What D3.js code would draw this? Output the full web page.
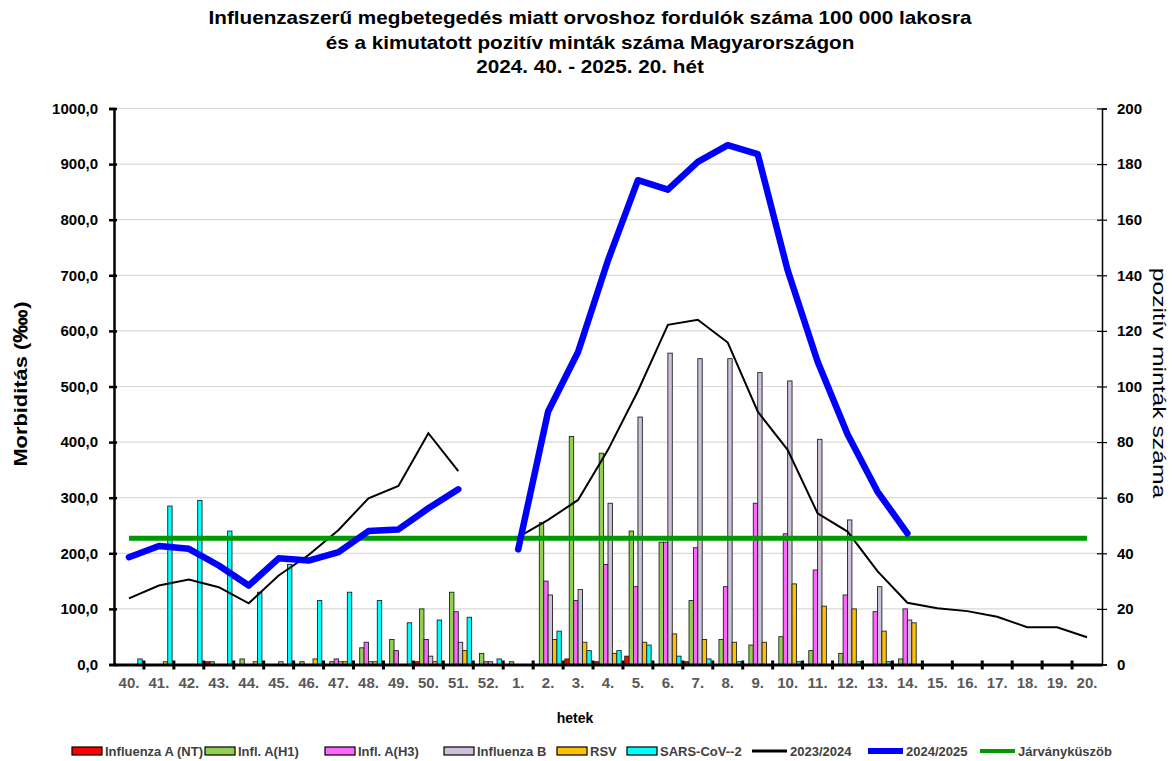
<!DOCTYPE html>
<html>
<head>
<meta charset="utf-8">
<script src="https://cdn.jsdelivr.net/npm/d3@7"></script>
<style>
  body { margin: 0; background: #fff; }
  svg { display: block; }
  text { font-family: "Liberation Sans", Arial, sans-serif; }
</style>
</head>
<body>
<div id="chart"></div>
<script>
// weeks 2024/40 .. 2025/20
var weeks = ["40.", "41.", "42.", "43.", "44.", "45.", "46.", "47.", "48.", "49.", "50.", "51.", "52.",
  "1.", "2.", "3.", "4.", "5.", "6.", "7.", "8.", "9.", "10.", "11.", "12.", "13.", "14.",
  "15.", "16.", "17.", "18.", "19.", "20."]

// positive samples (right axis)
var fluANT = [0, 0, 0, 1, 0, 0, 0, 0, 0, 0, 1, 0, 0, 0, 0, 2, 1, 3, 0, 1, 0, 0, 0, 0, 0, 0, 0, 0, 0, 0, 0, 0, 0]
var fluH1 = [0, 0, 0, 1, 2, 0, 1, 1, 6, 9, 20, 26, 4, 1, 51, 82, 76, 48, 44, 23, 9, 7, 10, 5, 4, 0, 2, 0, 0, 0, 0, 0, 0]
var fluH3 = [0, 0, 0, 0, 0, 0, 0, 2, 8, 5, 9, 19, 1, 0, 30, 23, 36, 28, 44, 42, 28, 58, 47, 34, 25, 19, 20, 0, 0, 0, 0, 0, 0]
var fluB = [0, 0, 0, 0, 0, 1, 0, 1, 1, 0, 3, 8, 1, 0, 25, 27, 58, 89, 112, 110, 110, 105, 102, 81, 52, 28, 16, 0, 0, 0, 0, 0, 0]
var rsv = [0, 1, 0, 0, 1, 0, 2, 1, 1, 0, 1, 5, 0, 0, 9, 8, 4, 8, 11, 9, 8, 8, 29, 21, 20, 12, 15, 0, 0, 0, 0, 0, 0]
var sars = [2, 57, 59, 48, 26, 36, 23, 26, 23, 15, 16, 17, 2, 0, 12, 5, 5, 7, 3, 2, 1, 0, 1, 0, 1, 1, 0, 0, 0, 0, 0, 0, 0]

// morbidity per 100 000 (left axis)
var morb2324 = [119, 142, 153, 139, 110, 160, 197, 242, 299, 321, 416, 348, null,
  229, 260, 296, 386, 492, 611, 620, 579, 455, 386, 272, 239, 168, 111, 101, 96, 86, 67, 67, 49]
var morb2425 = [193, 213, 208, 178, 142, 191, 187, 202, 240, 243, 281, 315, null,
  207, 455, 562, 727, 871, 854, 904, 934, 918, 709, 545, 414, 311, 236, null, null, null, null, null, null]
var threshold = 227

var barNames = ["Influenza A (NT)", "Infl. A(H1)", "Infl. A(H3)", "Influenza B", "RSV", "SARS-CoV--2"]
var barColors = ["#ff0000", "#92d050", "#ff66ff", "#ccc0da", "#ffc000", "#00ffff"]
var barData = [fluANT, fluH1, fluH3, fluB, rsv, sars]

function drawChart() {
  var width = 1175, height = 761
  var pl = 114, pr = 1102, pt = 108.5, pb = 664.5

  var svg = d3.select("#chart").append("svg")
    .attr("width", width)
    .attr("height", height)

  var x = d3.scaleBand().domain(weeks).range([pl, pr]).padding(0)
  var xs = d3.scaleBand().domain(d3.range(barNames.length))
    .range([0, x.bandwidth()]).paddingInner(0).paddingOuter(0.4)
  var yL = d3.scaleLinear().domain([0, 1000]).range([pb, pt])
  var yR = d3.scaleLinear().domain([0, 200]).range([pb, pt])

  // gridlines
  svg.append("g")
    .selectAll("line")
    .data(d3.range(100, 1001, 100))
    .enter().append("line")
    .attr("x1", pl).attr("x2", pr)
    .attr("y1", d => yL(d)).attr("y2", d => yL(d))
    .attr("stroke", "#d9d9d9")
    .attr("stroke-width", 1.2)

  // bars
  var groups = svg.append("g").selectAll("g")
    .data(barData)
    .enter().append("g")
    .attr("fill", (d, i) => barColors[i])

  groups.each(function (vals, si) {
    d3.select(this).selectAll("rect")
      .data(vals.map((v, i) => ({ v: v, w: weeks[i] })).filter(d => d.v > 0))
      .enter().append("rect")
      .attr("x", d => x(d.w) + xs(si))
      .attr("width", xs.bandwidth())
      .attr("y", d => yR(d.v))
      .attr("height", d => pb - yR(d.v))
      .attr("stroke", "#222")
      .attr("stroke-width", 0.9)
  })

  // left axis
  var fmt = d => d3.format(".1f")(d).replace(".", ",")
  var axL = svg.append("g")
    .attr("transform", "translate(" + pl + ",0)")
    .call(d3.axisLeft(yL).tickValues(d3.range(0, 1001, 100)).tickFormat(fmt).tickSizeOuter(0).tickSize(5).tickPadding(11))
  axL.select(".domain").attr("stroke", "#000").attr("stroke-width", 2.5)
  axL.selectAll(".tick line").attr("x1", 3).attr("x2", -5).attr("stroke-width", 2.5)
  axL.selectAll(".tick text")
    .attr("font-size", 15).attr("font-weight", "bold").attr("fill", "#000")

  // right axis
  var axR = svg.append("g")
    .attr("transform", "translate(" + pr + ",0)")
    .call(d3.axisRight(yR).tickValues(d3.range(0, 201, 20)).tickSizeOuter(0).tickSize(5).tickPadding(10))
  axR.select(".domain").attr("stroke", "#000").attr("stroke-width", 1.5)
  axR.selectAll(".tick line").attr("x1", -5).attr("x2", 5).attr("stroke-width", 1.2)
  axR.selectAll(".tick text")
    .attr("font-size", 15).attr("font-weight", "bold").attr("fill", "#000")

  // bottom axis
  var axB = svg.append("g")
    .attr("transform", "translate(0," + pb + ")")
    .call(d3.axisBottom(x).tickSizeOuter(0).tickSize(0).tickPadding(13))
  axB.select(".domain").attr("stroke", "#000").attr("stroke-width", 3)
  axB.selectAll(".tick text")
    .attr("font-size", 15).attr("font-weight", "bold").attr("fill", "#595959")
  axB.selectAll(".tick").filter((d, i) => i > 0)
    .append("line")
    .attr("x1", -x.bandwidth() / 2).attr("x2", -x.bandwidth() / 2)
    .attr("y1", -4).attr("y2", 5)
    .attr("stroke", "#000").attr("stroke-width", 3)

  // lines
  var cx = d => x(d) + x.bandwidth() / 2
  var line = d3.line()
    .defined(d => d.v != null)
    .x(d => cx(d.w))
    .y(d => yL(d.v))

  svg.append("path")
    .datum(morb2324.map((v, i) => ({ v: v, w: weeks[i] })))
    .attr("d", line)
    .attr("fill", "none")
    .attr("stroke", "#000")
    .attr("stroke-width", 2)

  svg.append("path")
    .datum(weeks.map(w => ({ v: threshold, w: w })))
    .attr("d", line)
    .attr("fill", "none")
    .attr("stroke", "#009a00")
    .attr("stroke-width", 5)

  svg.append("path")
    .datum(morb2425.map((v, i) => ({ v: v, w: weeks[i] })))
    .attr("d", line)
    .attr("fill", "none")
    .attr("stroke", "#0000ff")
    .attr("stroke-width", 6.5)
    .attr("stroke-linejoin", "round")
    .attr("stroke-linecap", "round")

  // titles
  var title = ["Influenzaszerű megbetegedés miatt orvoshoz fordulók száma 100 000 lakosra",
    "és a kimutatott pozitív minták száma Magyarországon",
    "2024. 40. - 2025. 20. hét"]
  svg.append("g").selectAll("text")
    .data(title)
    .enter().append("text")
    .attr("transform", (d, i) => "translate(590," + (24 + i * 24.5) + ") scale(1.15,1)")
    .attr("text-anchor", "middle")
    .attr("font-size", 18)
    .attr("font-weight", "bold")
    .text(d => d)

  svg.append("text")
    .attr("transform", "translate(27,384) rotate(-90) scale(1.15,1)")
    .attr("text-anchor", "middle")
    .attr("font-size", 19)
    .attr("font-weight", "bold")
    .text("Morbiditás (‱)")

  svg.append("text")
    .attr("transform", "translate(1153,383) rotate(90) scale(1.3,1)")
    .attr("text-anchor", "middle")
    .attr("font-size", 19)
    .text("pozitív minták száma")

  svg.append("text")
    .attr("x", 575).attr("y", 723)
    .attr("text-anchor", "middle")
    .attr("font-size", 14)
    .attr("font-weight", "bold")
    .text("hetek")

  // legend
  var legendItems = barNames.map((n, i) => ({ name: n, type: "rect", color: barColors[i], w: 2 }))
    .concat([
      { name: "2023/2024", type: "line", color: "#000", w: 3 },
      { name: "2024/2025", type: "line", color: "#0000ff", w: 6 },
      { name: "Járványküszöb", type: "line", color: "#009a00", w: 4 }
    ])
  var legendX = [72, 205, 325, 444, 557, 627, 752, 868, 980]
  var ly = 751
  var legend = svg.append("g")
  legendItems.forEach(function (it, i) {
    var g = legend.append("g").attr("transform", "translate(" + legendX[i] + "," + ly + ")")
    var sw = 30
    if (it.type == "rect") {
      g.append("rect").attr("x", 0).attr("y", -4).attr("width", 30).attr("height", 8)
        .attr("fill", it.color).attr("stroke", "#000").attr("stroke-width", 1.2)
    } else {
      sw = 35
      g.append("line").attr("x1", 0).attr("x2", sw).attr("y1", 0).attr("y2", 0)
        .attr("stroke", it.color).attr("stroke-width", it.w)
    }
    g.append("text").attr("x", sw + 3).attr("y", 4.5)
      .attr("font-size", 13).attr("font-weight", "bold").attr("fill", "#404040")
      .text(it.name)
  })
}

drawChart()
</script>
</body>
</html>
